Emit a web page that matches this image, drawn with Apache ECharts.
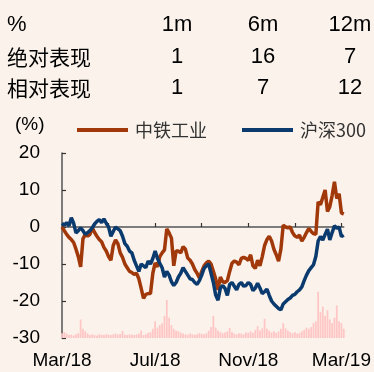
<!DOCTYPE html>
<html><head><meta charset="utf-8">
<style>html,body{margin:0;padding:0;background:#FBF3EB;}#c{width:374px;height:372px;}</style>
<script src="https://cdn.jsdelivr.net/npm/echarts@6/dist/echarts.min.js"></script>
</head><body><div id="c"></div>
<script>
// Header table
const headerCols = ['1m', '6m', '12m'];
const rowNames = ['绝对表现', '相对表现'];
const absPerf = [1, 16, 7];
const relPerf = [1, 7, 12];
// Legend names
const seriesNames = ['中铁工业', '沪深300'];
// X tick labels (every 40 points)
const tickLabels = ['Mar/18', 'Jul/18', 'Nov/18', 'Mar/19'];
// 中铁工业 relative performance (%)
const ztgy = [0,-1.0,-2.0,-2.8,-3.4,-4.2,-6.0,-8.0,-10.8,-3.2,
-2.0,-2.5,-2.0,-0.2,-1.5,-2.5,-3.4,-4.0,-5.5,-6.5,
-8.0,-9.0,-5.0,-3.5,-4.5,-7.0,-8.2,-10.0,-11.0,-12.0,
-12.3,-12.8,-12.5,-14.0,-16.6,-19.3,-18.2,-18.0,-18.0,-12.5,
-9.7,-10.8,-8.0,-7.0,-6.2,-0.5,-1.6,-3.0,-10.5,-6.5,
-6.5,-7.0,-5.3,-6.0,-8.4,-9.0,-10.0,-11.5,-12.5,-13.8,
-12.0,-10.5,-9.7,-9.2,-10.0,-12.0,-14.0,-17.0,-13.5,-14.8,
-15.0,-14.5,-12.0,-9.8,-9.2,-9.5,-10.2,-8.5,-8.2,-8.5,
-9.0,-7.5,-10.5,-11.2,-9.0,-10.5,-8.0,-5.0,-3.4,-2.5,
-3.8,-6.0,-7.5,-9.2,-6.0,0.5,0,-0.2,0,-1.5,
-2.4,-2.8,-2.2,-3.8,-2.8,-1.5,-0.4,-1.2,-1.8,-2.0,
6.8,6.0,8.0,10.0,4.2,5.5,8.5,12.2,7.7,9.0,
3.8,3.5];
// 沪深300 (%)
const hs300 = [1.0,0.5,1.2,0.3,2.5,1.0,-1.6,-1.0,-0.2,-1.0,
-2.0,-1.5,-1.0,-0.2,0.8,1.5,2.0,1.2,2.2,1.0,
0,-2.5,-1.2,0,-0.5,-1.0,-2.5,-4.5,-5.2,-6.5,
-7.0,-9.0,-10.5,-12.0,-10.0,-10.5,-11.0,-9.2,-10.0,-8.5,
-6.5,-8.5,-9.8,-11.0,-13.5,-12.0,-13.0,-14.8,-15.8,-15.0,
-13.5,-12.5,-11.0,-12.0,-13.0,-14.0,-14.2,-15.0,-15.5,-14.5,
-13.0,-11.2,-10.5,-10.0,-12.5,-15.0,-18.4,-19.8,-16.5,-15.8,
-16.6,-18.5,-15.5,-15.0,-16.0,-17.0,-15.5,-15.0,-16.0,-15.8,
-15.0,-15.5,-17.2,-16.5,-15.2,-16.5,-18.0,-17.5,-16.8,-18.5,
-20.0,-20.8,-21.4,-22.0,-22.4,-20.8,-20.2,-19.6,-19.2,-18.5,
-18.2,-17.5,-17.0,-16.2,-14.5,-13.0,-11.8,-11.0,-10.2,-8.0,
-3.8,-2.6,-3.5,-2.0,-0.6,-3.5,-1.5,0.3,-0.3,0,
-2.6,-2.2];
// Turnover (relative units, drawn from the bottom)
const volume = [1.3,1.6,1.2,0.8,0.9,0.7,1.0,1.3,5.0,2.5,
1.8,1.2,0.8,1.0,0.8,0.7,1.0,0.9,0.8,1.0,
0.9,0.8,1.0,1.2,0.9,1.1,1.9,0.9,0.8,1.0,
0.9,0.8,1.0,1.2,2.0,0.8,1.0,1.4,1.6,2.5,
4.5,2.8,3.5,4.0,6.0,10.3,5.5,3.5,2.5,2.0,
1.8,1.5,1.2,1.0,0.9,1.2,1.0,0.9,1.0,1.3,
1.1,1.0,1.3,2.0,3.0,6.0,2.8,2.0,1.6,1.3,
1.5,1.8,2.7,1.6,1.2,1.0,1.3,1.2,1.0,1.5,
1.4,1.8,1.4,2.2,3.2,2.0,2.6,5.2,2.5,2.0,
1.5,1.8,1.4,1.8,2.5,4.0,2.6,2.0,1.6,1.3,
1.6,1.2,1.4,1.8,2.2,2.8,2.5,3.0,4.0,4.5,
12.5,7.0,8.5,6.0,7.5,5.0,4.0,5.5,8.8,4.5,
4.0,2.5];

const cats = ztgy.map((_, i) => String(i));
const FONT = "'Liberation Sans', Arial, 'Noto Sans CJK SC', sans-serif";
const CJK = "'Noto Sans CJK SC', sans-serif";
const colX = [177, 263, 350];
const rowY = [25, 57, 88];

const graphics = [];
graphics.push({type:'text', left: 7, top: rowY[0]-11, style:{text:'%', font:'22px ' + FONT, fill:'#000'}});
headerCols.forEach((t, i) => graphics.push({type:'text', x: colX[i], y: rowY[0], style:{text:t, font:'22px ' + FONT, fill:'#000', align:'center', verticalAlign:'middle'}}));
[absPerf, relPerf].forEach((row, r) => {
  graphics.push({type:'text', x: 7, y: rowY[r+1], style:{text: rowNames[r], font:'21px ' + CJK, fill:'#000', verticalAlign:'middle'}});
  row.forEach((v, i) => graphics.push({type:'text', x: colX[i], y: rowY[r+1], style:{text:String(v), font:'22px ' + FONT, fill:'#000', align:'center', verticalAlign:'middle'}}));
});
graphics.push({type:'text', x: 15, y: 125, style:{text:'(%)', font:'19px ' + FONT, fill:'#000', verticalAlign:'middle'}});

const chart = echarts.init(document.getElementById('c'));
chart.setOption({
  backgroundColor: '#FBF3EB',
  animation: false,
  graphic: graphics,
  legend: {
    data: seriesNames,
    left: 72, top: 116,
    icon: 'rect', itemWidth: 51, itemHeight: 4, itemGap: 35,
    textStyle: {fontSize: 18, fontFamily: CJK, color: '#333', padding: [0,0,0,2]}
  },
  grid: {left: 62, right: 9.5, top: 153, bottom: 34},
  xAxis: {
    type: 'category', data: cats, boundaryGap: false,
    axisLine: {lineStyle: {color: '#555', width: 1.5}},
    axisTick: {inside: true, length: 4, interval: (i) => i % 20 === 0, lineStyle: {color: '#333', width: 1.2}},
    axisLabel: {interval: (i) => i % 40 === 0, formatter: (v, i) => tickLabels[i / 40] || '', margin: 13, fontSize: 19, fontFamily: FONT, color: '#000'},
    splitLine: {show: false}
  },
  yAxis: [{
    type: 'value', min: -30, max: 20, interval: 10,
    axisLine: {show: true, lineStyle: {color: '#555', width: 1.5}},
    axisTick: {show: true, inside: true, length: 4, lineStyle: {color: '#333', width: 1.2}},
    axisLabel: {margin: 22, fontSize: 19, fontFamily: FONT, color: '#000'},
    splitLine: {show: false}
  }, {
    type: 'value', min: 0, max: 50, show: false, splitLine: {show: false}
  }],
  series: [{
    name: 'vol', type: 'bar', yAxisIndex: 1, data: volume, barWidth: 1.8,
    itemStyle: {color: '#FFC6C6'}, silent: true, z: 1
  }, {
    name: seriesNames[0], type: 'line', data: ztgy, showSymbol: false,
    lineStyle: {color: '#A0380A', width: 3.5}, itemStyle: {color: '#A0380A'}, z: 3
  }, {
    name: seriesNames[1], type: 'line', data: hs300, showSymbol: false,
    lineStyle: {color: '#0B3A6E', width: 3.5}, itemStyle: {color: '#0B3A6E'}, z: 4
  }]
});
</script></body></html>
